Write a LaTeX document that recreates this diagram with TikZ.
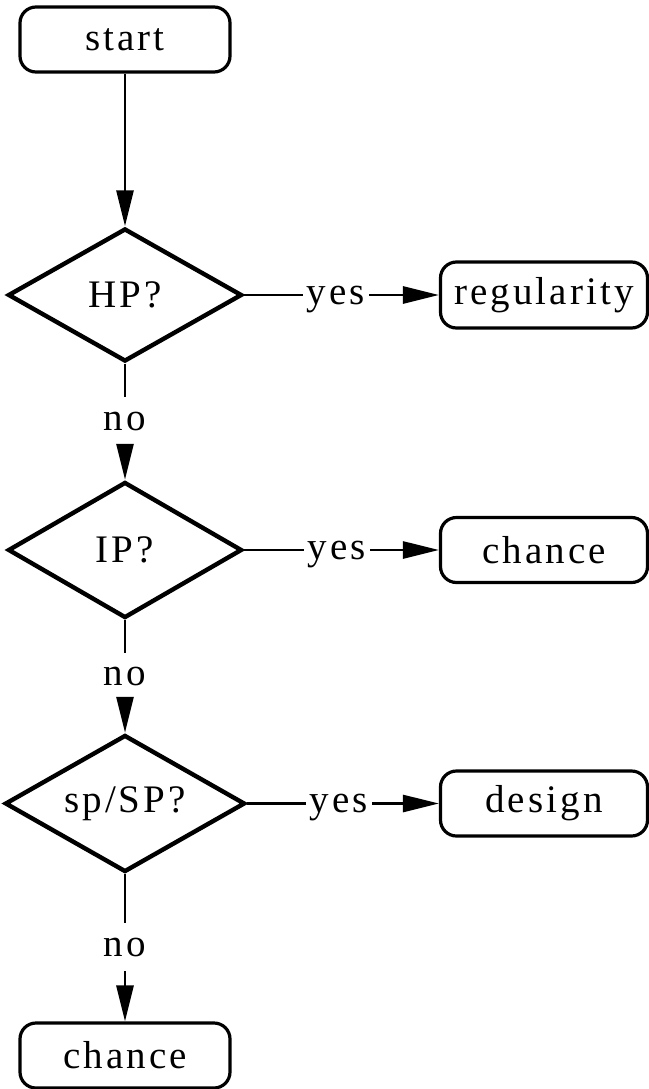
\documentclass[tikz,border=0pt]{standalone}
\usepackage{fontspec}
\setmainfont{Liberation Serif}[LetterSpace=8]
\usetikzlibrary{shapes.geometric,arrows.meta}
\begin{document}
\begin{tikzpicture}[x=1bp,y=-1bp,
  every node/.style={font=\fontsize{39bp}{42bp}\selectfont},
  term/.style={draw, rounded corners=16bp, line width=3.2bp, inner sep=0pt},
  decide/.style={draw, diamond, shape aspect=1.75, line width=4.4bp, inner sep=0pt},
  lbl/.style={inner xsep=4bp, inner ysep=0pt, text height=18bp, text depth=0pt},
  conn/.style={line width=2.8bp},
  flow/.style={conn, -{Triangle[length=36bp,width=17bp]}}]
\useasboundingbox (0,0) rectangle (649,1089);

% main column
\node[term, minimum width=210bp, minimum height=65bp] (start) at (125,39.5) {start};
\node[decide, minimum width=234bp, minimum height=133bp] (hp) at (125,295) {HP?};
\node[decide, minimum width=234bp, minimum height=136bp] (ip) at (125,550) {IP?};
\node[decide, minimum width=240bp, minimum height=137bp] (sp) at (125,803.5) {sp/SP?};
\node[term, minimum width=210bp, minimum height=65bp] (end) at (125,1055.5) {chance};

% outcome boxes
\node[term, minimum width=207bp, minimum height=66bp] (reg) at (544,295) {regularity};
\node[term, minimum width=207bp, minimum height=65bp] (ch) at (544,550) {chance};
\node[term, minimum width=207bp, minimum height=65bp] (des) at (544,803.5) {design};

% branch labels
\node[lbl] (y1) at (336,295) {yes};
\node[lbl] (y2) at (337,550) {yes};
\node[lbl] (y3) at (339,803.5) {yes};
\node[lbl, minimum height=48bp] (n1) at (125,421) {no};
\node[lbl, minimum height=46bp] (n2) at (125,676) {no};
\node[lbl, minimum height=48bp] (n3) at (125,947) {no};

% connectors
\draw[flow] (start.south) -- (hp.north);
\draw[conn] (hp.east) -- (y1.west);
\draw[flow] (y1.east) -- (reg.west);
\draw[conn] (ip.east) -- (y2.west);
\draw[flow] (y2.east) -- (ch.west);
\draw[conn] (sp.east) -- (y3.west);
\draw[flow] (y3.east) -- (des.west);
\draw[conn] (hp.south) -- (n1.north);
\draw[flow] (n1.south) -- (ip.north);
\draw[conn] (ip.south) -- (n2.north);
\draw[flow] (n2.south) -- (sp.north);
\draw[conn] (sp.south) -- (n3.north);
\draw[flow] (n3.south) -- (end.north);
\end{tikzpicture}
\end{document}
